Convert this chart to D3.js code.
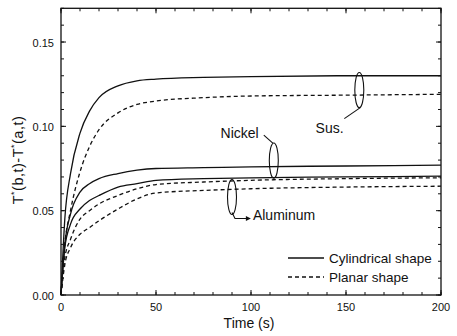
<!DOCTYPE html>
<html>
<head>
<meta charset="utf-8">
<script src="https://cdn.jsdelivr.net/npm/d3@7"></script>
<style>
body { margin: 0; background: #fff; }
text { font-family: "Liberation Sans", Arial, sans-serif; fill: #111; }
.line { fill: none; stroke: #111; stroke-width: 1.3; }
.dashed { stroke-dasharray: 4,3; }
</style>
</head>
<body>
<svg id="chart" width="457" height="336"></svg>
<script>
// time (s) and the six temperature-difference curves
var time = [0, 2, 5, 10, 15, 20, 30, 40, 50, 75, 100, 150, 200];
var susCyl = [0, 0.045, 0.072, 0.096, 0.109, 0.117, 0.124, 0.127, 0.128, 0.129, 0.1295, 0.130, 0.130];
var susPlan = [0, 0.030, 0.050, 0.073, 0.088, 0.098, 0.108, 0.113, 0.115, 0.117, 0.118, 0.1185, 0.119];
var niCyl = [0, 0.030, 0.048, 0.061, 0.066, 0.069, 0.072, 0.074, 0.075, 0.0755, 0.076, 0.0765, 0.077];
var alCyl = [0, 0.028, 0.042, 0.051, 0.056, 0.059, 0.064, 0.066, 0.068, 0.069, 0.0695, 0.070, 0.0705];
var niPlan = [0, 0.022, 0.033, 0.045, 0.050, 0.054, 0.059, 0.063, 0.0655, 0.067, 0.068, 0.069, 0.0695];
var alPlan = [0, 0.018, 0.028, 0.036, 0.040, 0.044, 0.051, 0.057, 0.0605, 0.062, 0.063, 0.064, 0.0645];

var xTicks = [0, 50, 100, 150, 200];
var yTicks = [0.00, 0.05, 0.10, 0.15];
var legendLabels = ["Cylindrical shape", "Planar shape"];

// material groups: ellipse centre (t, value), half height in value units, label
var groups = [
	{name: "Sus.", t: 157, v: 0.1215, h: 0.0104, lx: 134, ly: 0.0961},
	{name: "Nickel", t: 112, v: 0.0797, h: 0.0104, lx: 84, ly: 0.0931},
	{name: "Aluminum", t: 90, v: 0.0581, h: 0.0104, lx: 101, ly: 0.0445}
];

var pLeft = 61, pRight = 441, pTop = 8.3, pBottom = 295;

var svg = d3.select("#chart");

var x = d3.scaleLinear().domain([0, 200]).range([pLeft, pRight]);
var y = d3.scaleLinear().domain([0, 0.17]).range([pBottom, pTop]);

// frame
svg.append("rect")
	.attr("x", pLeft).attr("y", pTop)
	.attr("width", pRight - pLeft).attr("height", pBottom - pTop)
	.attr("fill", "none").attr("stroke", "#111").attr("stroke-width", 1.3);

// inward ticks on all four sides
var xMinor = d3.range(0, 201, 10);
var yMinor = d3.range(0, 0.1701, 0.01);

function addTicks(values, isMajor, horiz) {
	var len = isMajor ? 5 : 3;
	values.forEach(function(v) {
		if (horiz) {
			svg.append("line").attr("x1", x(v)).attr("x2", x(v))
				.attr("y1", pBottom).attr("y2", pBottom - len).attr("stroke", "#111");
			svg.append("line").attr("x1", x(v)).attr("x2", x(v))
				.attr("y1", pTop).attr("y2", pTop + len).attr("stroke", "#111");
		} else {
			svg.append("line").attr("y1", y(v)).attr("y2", y(v))
				.attr("x1", pLeft).attr("x2", pLeft + len).attr("stroke", "#111");
			svg.append("line").attr("y1", y(v)).attr("y2", y(v))
				.attr("x1", pRight).attr("x2", pRight - len).attr("stroke", "#111");
		}
	});
}
addTicks(xMinor, false, true);
addTicks(xTicks, true, true);
addTicks(yMinor, false, false);
addTicks(yTicks, true, false);

// tick labels
svg.selectAll(".xl").data(xTicks).enter().append("text")
	.attr("x", function(d) { return x(d); })
	.attr("y", pBottom + 16)
	.attr("text-anchor", "middle")
	.attr("font-size", 11)
	.text(function(d) { return d; });

svg.selectAll(".yl").data(yTicks).enter().append("text")
	.attr("x", pLeft - 7)
	.attr("y", function(d) { return y(d) + 4.5; })
	.attr("text-anchor", "end")
	.attr("font-size", 11)
	.text(function(d) { return d.toFixed(2); });

// axis titles
svg.append("text")
	.attr("x", (pLeft + pRight) / 2 - 2).attr("y", 328)
	.attr("text-anchor", "middle").attr("font-size", 14)
	.text("Time (s)");

var yt = svg.append("text")
	.attr("transform", "translate(23," + 160 + ") rotate(-90)")
	.attr("text-anchor", "middle").attr("font-size", 14.5)
	.attr("letter-spacing", 0.5);
yt.append("tspan").text("T");
yt.append("tspan").attr("dy", -6).attr("font-size", 9).text("*");
yt.append("tspan").attr("dy", 6).text("(b,t)-T");
yt.append("tspan").attr("dy", -6).attr("font-size", 9).text("*");
yt.append("tspan").attr("dy", 6).text("(a,t)");

// curves
var line = d3.line()
	.x(function(d) { return x(d[0]); })
	.y(function(d) { return y(d[1]); })
	.curve(d3.curveMonotoneX);

var series = [
	{vals: susCyl, dash: false}, {vals: susPlan, dash: true},
	{vals: niCyl, dash: false}, {vals: niPlan, dash: true},
	{vals: alCyl, dash: false}, {vals: alPlan, dash: true}
];
series.forEach(function(s) {
	svg.append("path")
		.attr("class", s.dash ? "line dashed" : "line")
		.attr("d", line(d3.zip(time, s.vals)));
});

// ellipses and labels
groups.forEach(function(g) {
	svg.append("ellipse")
		.attr("cx", x(g.t)).attr("cy", y(g.v))
		.attr("rx", 4.5).attr("ry", y(g.v - g.h) - y(g.v))
		.attr("fill", "none").attr("stroke", "#111").attr("stroke-width", 1.1);
	svg.append("text")
		.attr("x", x(g.lx)).attr("y", y(g.ly))
		.attr("font-size", 14)
		.text(g.name);
});

// pointer lines
var sus = groups[0], ni = groups[1], al = groups[2];
svg.append("line")
	.attr("x1", x(sus.t) + 1).attr("y1", y(sus.v - sus.h))
	.attr("x2", x(sus.t) - 15).attr("y2", y(sus.v - sus.h) + 11)
	.attr("stroke", "#111").attr("stroke-width", 1.1);
svg.append("line")
	.attr("x1", x(ni.t) - 1).attr("y1", y(ni.v + ni.h))
	.attr("x2", x(ni.t) - 10).attr("y2", y(ni.v + ni.h) - 8)
	.attr("stroke", "#111").attr("stroke-width", 1.1);
svg.append("path")
	.attr("d", "M" + x(al.t) + "," + (y(al.v - al.h) - 2) +
		" L" + (x(al.t) + 3) + "," + (y(al.v - al.h) + 4) +
		" L" + (x(al.lx) - 4) + "," + (y(al.v - al.h) + 4))
	.attr("fill", "none").attr("stroke", "#111").attr("stroke-width", 1.1);
svg.append("path")
	.attr("d", "M" + (x(al.lx) - 2) + "," + (y(al.v - al.h) + 4) +
		" l-5,-2.5 l0,5 z")
	.attr("fill", "#111");

// legend
var legY = [263, 282];
legendLabels.forEach(function(lab, i) {
	svg.append("line")
		.attr("x1", 288).attr("x2", 324)
		.attr("y1", legY[i] - 5).attr("y2", legY[i] - 5)
		.attr("class", i === 0 ? "line" : "line dashed");
	svg.append("text")
		.attr("x", 329).attr("y", legY[i])
		.attr("font-size", 13.5)
		.text(lab);
});
</script>
</body>
</html>
